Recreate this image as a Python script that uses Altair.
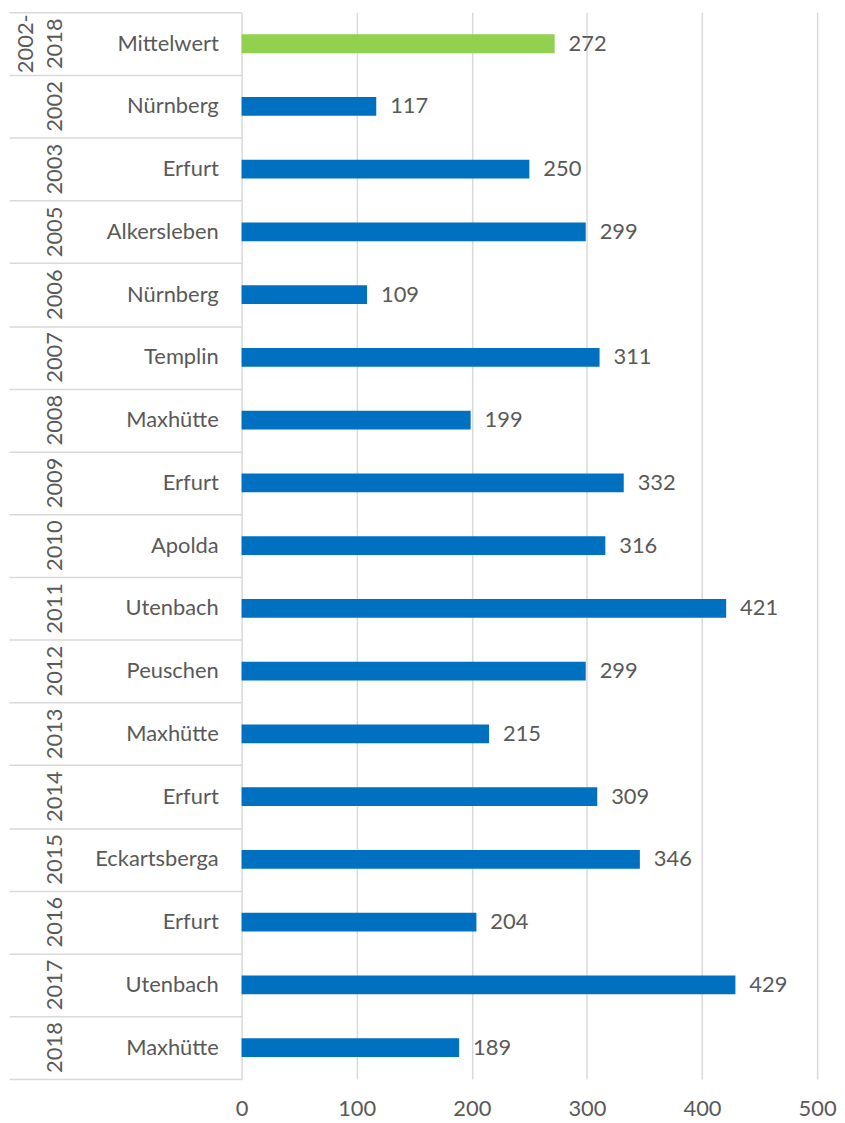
import altair as alt
import pandas as pd

years = ["2002-\n2018", "2002", "2003", "2005", "2006", "2007", "2008", "2009", "2010",
         "2011", "2012", "2013", "2014", "2015", "2016", "2017", "2018"]
names = ["Mittelwert", "Nürnberg", "Erfurt", "Alkersleben", "Nürnberg", "Templin", "Maxhütte",
         "Erfurt", "Apolda", "Utenbach", "Peuschen", "Maxhütte", "Erfurt", "Eckartsberga",
         "Erfurt", "Utenbach", "Maxhütte"]
values = [272, 117, 250, 299, 109, 311, 199, 332, 316, 421, 299, 215, 309, 346, 204, 429, 189]
kinds = ["mean"] + ["year"] * 16

n = len(names)
df = pd.DataFrame({
    "year": years, "name": names, "value": values, "kind": kinds,
    "i": list(range(n)),
})
df["zero"] = 0
df["yc"] = df["i"] + 0.5
df["y0"] = df["i"] + 0.35
df["y1"] = df["i"] + 0.65

row_bounds = list(range(n + 1))

FONT = "Lato"
FS = 22
TXT = "#595959"
GRID = "#D9D9D9"

yscale = alt.Scale(domain=[0, n], reverse=True, nice=False, zero=False)
xscale = alt.Scale(domain=[0, 500], nice=False)

base = alt.Chart(df)

bars = base.mark_bar().encode(
    x=alt.X("value:Q", scale=xscale,
            axis=alt.Axis(values=[0, 100, 200, 300, 400, 500], grid=True, gridColor=GRID,
                          gridWidth=1.5, domain=False, ticks=False, labelPadding=20,
                          labelFlush=False, labelFont=FONT, labelFontSize=FS,
                          labelColor=TXT, title=None)),
    x2="zero:Q",
    y=alt.Y("y0:Q", scale=yscale,
            axis=alt.Axis(values=row_bounds, labels=False, domain=False, grid=False,
                          ticks=True, tickSize=234, tickColor=GRID, tickWidth=1.5,
                          title=None)),
    y2="y1:Q",
    color=alt.Color("kind:N", scale=alt.Scale(domain=["mean", "year"],
                                              range=["#92D050", "#0070C0"]), legend=None),
)

vals = base.mark_text(align="left", baseline="middle", dx=14, font=FONT,
                      fontSize=FS, color=TXT).encode(
    x=alt.X("value:Q", scale=xscale), y=alt.Y("yc:Q", scale=yscale), text="value:Q")

nm = base.mark_text(align="right", baseline="middle", font=FONT,
                    fontSize=FS, color=TXT).encode(
    x=alt.value(-23), y=alt.Y("yc:Q", scale=yscale), text="name:N")

yr_style = dict(align="center", baseline="bottom", angle=270, font=FONT,
                fontSize=FS, color=TXT, lineBreak="\n", lineHeight=29)

yr = base.transform_filter(alt.datum.i > 0).mark_text(**yr_style).encode(
    x=alt.value(-176), y=alt.Y("yc:Q", scale=yscale), text="year:N")

yr0 = base.transform_filter(alt.datum.i == 0).mark_text(**yr_style).encode(
    x=alt.value(-205), y=alt.Y("yc:Q", scale=yscale), text="year:N")

chart = alt.layer(bars, vals, nm, yr, yr0).properties(
    width=579, height=1073,
    padding={"left": 0, "top": 0, "right": 0, "bottom": 4},
).configure_view(strokeWidth=0)

chart.save("out.html", embed_options={"renderer": "svg", "actions": False})
